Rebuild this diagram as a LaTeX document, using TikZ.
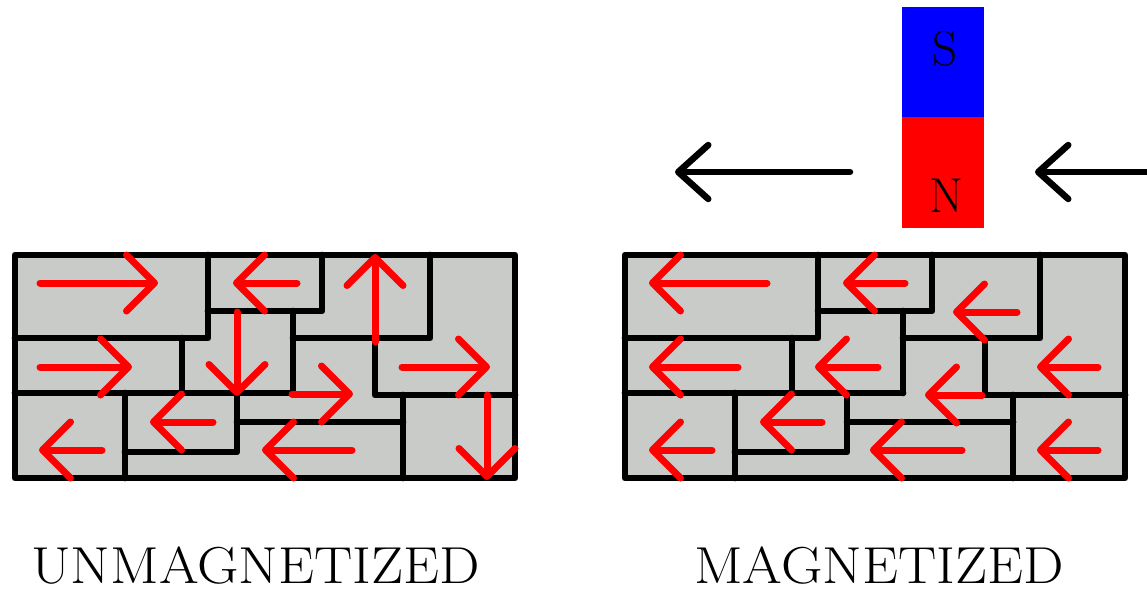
\documentclass[tikz,border=0pt]{standalone}
\usepackage{fontspec}
\usetikzlibrary{arrows.meta}
\definecolor{brickgray}{RGB}{201,203,201}
\definecolor{spinred}{RGB}{255,0,0}
\definecolor{poleblue}{RGB}{0,0,255}
\begin{document}
\begin{tikzpicture}[x=1pt,y=1pt,yscale=-1,xscale=1,
  wall/.style={line width=6.7pt, line join=round, line cap=round},
  spin/.style={spinred, line width=7pt, line cap=round,
    -{Straight Barb[length=28pt,width=56pt,line cap=round,line join=round]}},
  push/.style={black, line width=6.5pt, line cap=round,
    -{Straight Barb[length=30pt,width=54pt,line cap=round,line join=round]}},
  caption/.style={anchor=base, inner sep=0pt, xscale=1.1, font=\fontsize{52}{58}\selectfont},
  pole/.style={anchor=base, inner sep=0pt, font=\fontsize{49}{58}\selectfont}]
\useasboundingbox (0,0) rectangle (1147,589);

%Domain walls, same layout in both blocks
\foreach \dx in {0,610}{
  \begin{scope}[shift={(\dx,0)}]
    %Shape: Rectangle
    \filldraw [wall, fill=brickgray] (15,255) rectangle (515,478);
    %Straight Lines
    \draw [wall] (208,255) -- (208,338) -- (15,338);
    \draw [wall] (208,311) -- (322,311) -- (322,255);
    \draw [wall] (293,311) -- (293,393);
    \draw [wall] (293,338) -- (430,338) -- (430,255);
    \draw [wall] (182,338) -- (182,393);
    \draw [wall] (15,393) -- (293,393);
    \draw [wall] (375,338) -- (375,395) -- (515,395);
    \draw [wall] (237,393) -- (237,452) -- (125,452);
    \draw [wall] (125,393) -- (125,478);
    \draw [wall] (237,422) -- (403,422);
    \draw [wall] (403,395) -- (403,478);
  \end{scope}
}

%Unmagnetized: domains point every which way
\draw [spin] (40,283) -- (158,283);
\draw [spin] (297,283) -- (233,283);
\draw [spin] (375,342) -- (375,254);
\draw [spin] (402,367) -- (490,367);
\draw [spin] (40,367) -- (132,367);
\draw [spin] (237,312) -- (237,396);
\draw [spin] (292,394) -- (353,394);
\draw [spin] (213,422) -- (150,422);
\draw [spin] (102,450) -- (39,450);
\draw [spin] (352,450) -- (262,450);
\draw [spin] (487,395) -- (487,480);

%Magnetized: all domains lined up
\draw [spin] (767,283) -- (649,283);
\draw [spin] (905,283) -- (843,283);
\draw [spin] (1017,312) -- (953,312);
\draw [spin] (1098,367) -- (1037,367);
\draw [spin] (738,367) -- (649,367);
\draw [spin] (878,367) -- (815,367);
\draw [spin] (982,395) -- (925,395);
\draw [spin] (822,422) -- (760,422);
\draw [spin] (712,450) -- (649,450);
\draw [spin] (962,450) -- (870,450);
\draw [spin] (1098,450) -- (1037,450);

%Shape: Rectangle (bar magnet)
\fill [poleblue] (902,7) rectangle (984,117);
\fill [spinred] (902,117) rectangle (984,228);

%Straight Lines (field direction)
\draw [push] (850,172) -- (675,172);
\draw [push] (1152,172) -- (1035,172);

% Text Node
\node [pole] (south) at (945,65) {S};
% Text Node
\node [pole] (north) at (946,212) {N};
% Text Node
\node [caption] (unmag) at (255.5,583) {UNMAGNETIZED};
% Text Node
\node [caption] (mag) at (879,583) {MAGNETIZED};

\end{tikzpicture}
\end{document}
